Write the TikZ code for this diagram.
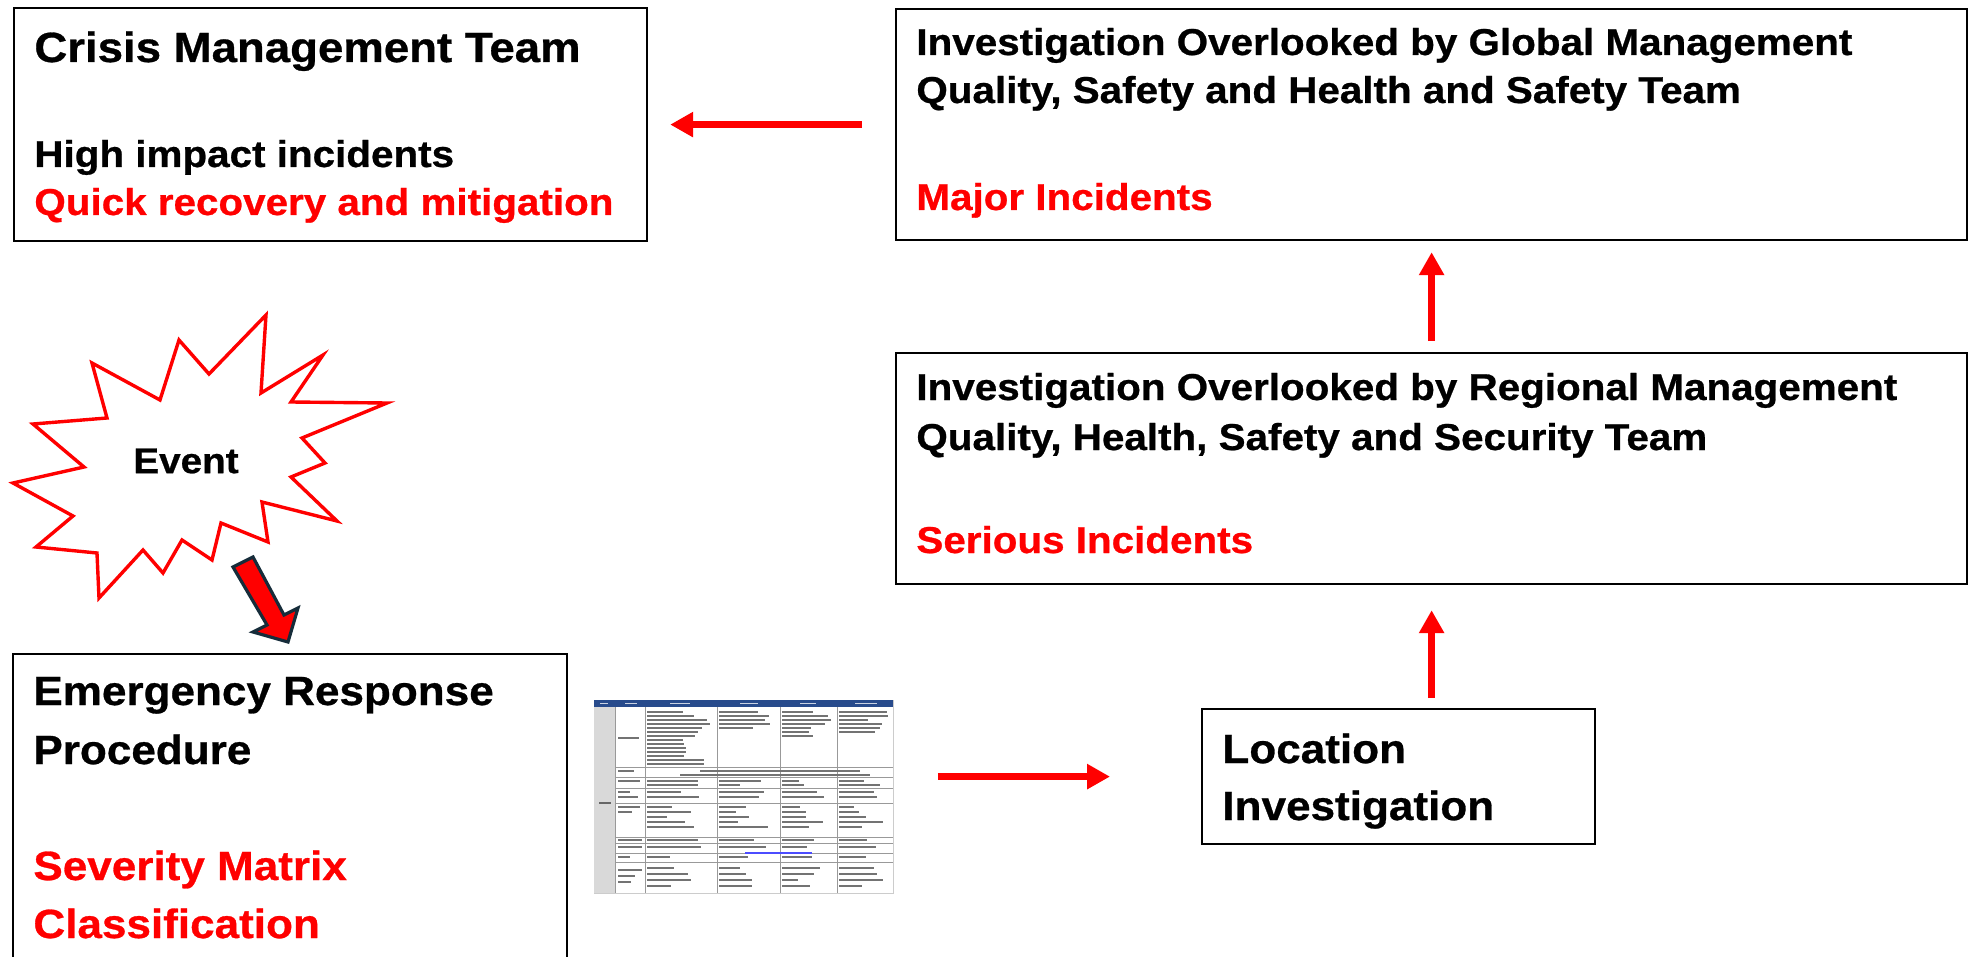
\documentclass[tikz,border=0pt]{standalone}
\usepackage{fontspec}
\setmainfont{Liberation Sans}[FakeStretch=1.08,BoldFeatures={FakeBold=0.7}]
\usepackage{tikz}
\usetikzlibrary{arrows.meta,calc}
\definecolor{alertred}{RGB}{255,0,0}
\definecolor{tipnavy}{RGB}{22,44,58}
\definecolor{headblue}{RGB}{40,75,140}

\begin{document}
\begin{tikzpicture}[x=0.5pt,y=-0.5pt]
            \tikzstyle{box}=[draw=black,line width=1.1pt,fill=white,inner sep=0pt,anchor=north west]
            \tikzstyle{bigtxt}=[inner sep=0pt,anchor=base west,font=\fontsize{20.4}{24}\selectfont\bfseries]
            \tikzstyle{midtxt}=[inner sep=0pt,anchor=base west,font=\fontsize{18.7}{22}\selectfont\bfseries]
            \tikzstyle{redarrow}=[alertred,line width=3.5pt,-{Triangle[length=11.5pt,width=12pt]}]
            \tikzstyle{scribble}=[black!55,line width=1.3pt]

            \clip (0,0) rectangle (1974,957);

            % boxes
            \node[box,minimum width=316.5pt,minimum height=116.5pt] (crisis) at (13,7) {};
            \node[box,minimum width=535.5pt,minimum height=115.5pt] (global) at (895,8) {};
            \node[box,minimum width=535.5pt,minimum height=115.5pt] (regional) at (895,352) {};
            \node[box,minimum width=196.5pt,minimum height=67.5pt] (location) at (1201,708) {};
            \node[box,minimum width=277pt,minimum height=200pt] (emergency) at (12,653) {};

            % box texts
            \node[bigtxt,font=\fontsize{21.1}{24}\selectfont\bfseries] (crisis-1) at (34,62) {Crisis Management Team};
            \foreach \name/\x/\y/\col/\txt in {loc-1/1222/763/black/{Location}, loc-2/1222/820/black/{Investigation},
                emer-1/33/705/black/{Emergency Response}, emer-2/33/764/black/{Procedure},
                emer-3/33/880/alertred/{Severity Matrix}, emer-4/33/938/alertred/{Classification}}
              \node[bigtxt,text=\col] (\name) at (\x,\y) {\txt};

            \foreach \name/\x/\y/\col/\txt in {crisis-2/34/167/black/{High impact incidents},
                crisis-3/34/215/alertred/{Quick recovery and mitigation},
                glob-1/916/55/black/{Investigation Overlooked by Global Management},
                glob-2/916/103/black/{Quality, Safety and Health and Safety Team}, glob-3/916/210/alertred/{Major Incidents},
                reg-1/916/400/black/{Investigation Overlooked by Regional Management},
                reg-2/916/450/black/{Quality, Health, Safety and Security Team}, reg-3/916/553/alertred/{Serious Incidents}}
              \node[midtxt,text=\col] (\name) at (\x,\y) {\txt};

            % event burst
            \draw[alertred,line width=1.7pt,fill=white,line join=miter]
              (266,315) -- (261,393) -- (323,355) -- (291,402) -- (387,403) -- (302,438) -- (325,463)
              -- (291,477) -- (337,521) -- (262,502) -- (268,542) -- (221,523) -- (212,560) -- (182,540)
              -- (163,573) -- (143,550) -- (99,598) -- (97,553) -- (36,547) -- (73,516) -- (13,483)
              -- (84,467) -- (33,424) -- (107,418) -- (92,363) -- (160,400) -- (179,340) -- (209,374) -- cycle;
            \node[inner sep=0pt,font=\fontsize{17.9}{20}\selectfont\bfseries] (event) at (186,461) {Event};

            % block arrow from the event down to the procedure
            \draw[fill=alertred,draw=tipnavy,line width=1.6pt,line join=miter]
              (233,567) -- (253,557) -- (284,615) -- (298,608) -- (288,642) -- (253,632) -- (267,625) -- cycle;

            % severity matrix picture
            \node[draw=gray!40,line width=0.4pt,fill=white,inner sep=0pt,anchor=north west,
                  minimum width=149.5pt,minimum height=96.5pt] (sevgrid) at (594,700) {};
            \fill[headblue] (594,700) rectangle (893,707);
            \fill[gray!30] (594,707) rectangle (615,893);
            \foreach \x/\w in {600/8, 625/12, 670/20, 740/18, 800/16, 855/22}
              \draw[white!75!headblue,line width=0.8pt] (\x,703.5) -- ++(\w,0);
            \foreach \x in {615,645,717,780,837}
              \draw[gray!80,line width=0.5pt] (\x,707) -- (\x,893);
            \foreach \y in {767,777,788,803,837,843,853,862}
              \draw[gray!80,line width=0.5pt] (615,\y) -- (893,\y);
            \pgfmathsetseed{7}
            \foreach \cx/\cw/\n in {647/64/14, 719/56/5, 782/50/7, 839/50/6}
              \foreach \i in {1,...,\n}
                \draw[scribble] (\cx,708+4*\i) -- ++({\cw*(0.5+0.5*rnd)},0);
            \draw[scribble] (700,771) -- (860,771);
            \draw[scribble] (680,775) -- (870,775);
            \foreach \cx/\cw in {647/60, 719/56, 782/50, 839/50}
              \foreach \y in {781,785,792,797,807,812,817,822,827,840,847,857,868,874,880,886}
                \draw[scribble] (\cx,\y) -- ++({\cw*(0.3+0.6*rnd)},0);
            \foreach \y in {738,771,781,792,797,807,812,840,847,857,870,876,882}
              \draw[scribble] (618,\y) -- ++({10+14*rnd},0);
            \draw[blue!70,line width=1.3pt] (745,853) -- (812,853);
            \draw[black!60,line width=1.2pt] (599,803) -- (611,803);

            % red connectors
            \draw[redarrow,shorten <=16.5pt,shorten >=11pt] (global.west) -- (crisis.east);
            \draw[redarrow,shorten <=5.5pt,shorten >=5.5pt] (regional.north) -- (global.south);
            \draw[redarrow,shorten <=5pt,shorten >=12.5pt] (regional.south |- location.north) -- (regional.south);
            \draw[redarrow,shorten <=22pt,shorten >=45.5pt] (sevgrid.east |- location.west) -- (location.west);
        \end{tikzpicture}
\end{document}
